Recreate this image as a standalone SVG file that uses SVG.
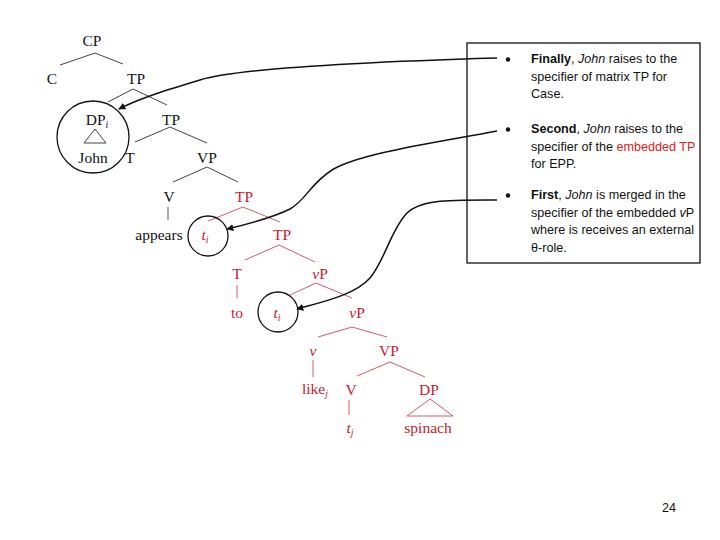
<svg xmlns="http://www.w3.org/2000/svg" width="720" height="540" viewBox="0 0 720 540">
<defs>
<style>
.t{font-family:"Liberation Serif","Times New Roman",serif;font-size:15.5px;text-anchor:middle}
.k{fill:#111}
.r{fill:#c8202e}
.lk{stroke:#444;stroke-width:1;fill:none}
.lr{stroke:#d45a68;stroke-width:1;fill:none}
.c{stroke:#111;stroke-width:1.3;fill:none}
.a{stroke:#111;stroke-width:1.5;fill:none;marker-end:url(#ah)}
.b{font-family:"Liberation Sans",Arial,sans-serif;font-size:12.6px;fill:#111}
.red{fill:#e02020}
</style>
<marker id="ah" viewBox="0 0 10 10" refX="9" refY="5" markerWidth="7" markerHeight="7" orient="auto" markerUnits="userSpaceOnUse">
<path d="M0,0 L10,5 L0,10 z" fill="#111"/>
</marker>
</defs>
<rect width="720" height="540" fill="#fff"/>

<g id="tree-lines">
<path class="lk" d="M60,65 L95,53 L123,64"/>
<path class="lk" d="M108,102 L133,89 L167,105"/>
<path class="lk" d="M95,129 L84,143 L106,143 Z"/>
<path class="lk" d="M135,142 L170,127 L207,143"/>
<path class="lk" d="M173,182 L207,167 L238,182"/>
<path d="M168,207 L168,220" stroke="#5a8070" stroke-width="1.2"/>
<path class="lr" d="M208,221 L243,207 L280,222"/>
<path class="lr" d="M245,260 L279,245 L315,262"/>
<path class="lr" d="M237,285 L237,298"/>
<path class="lr" d="M290,295 L316,283 L352,298"/>
<path class="lr" d="M318,337 L352,327 L387,337"/>
<path class="lr" d="M313,360 L313,377"/>
<path class="lr" d="M357,376 L390,362 L425,377"/>
<path class="lr" d="M349,400 L349,415"/>
<path class="lr" d="M430,399 L407,416 L453,416 Z"/>
</g>

<g id="CP"><text class="t k" x="92" y="46">CP</text></g>
<g id="C"><text class="t k" x="52" y="84">C</text></g>
<g id="TP1"><text class="t k" x="136" y="84">TP</text></g>
<g id="DPi"><text class="t k" x="97" y="125">DP<tspan font-style="italic" font-size="10" dy="3">i</tspan></text></g>
<g id="John"><text class="t k" x="93" y="163">John</text></g>
<g id="T1"><text class="t k" x="130" y="163">T</text></g>
<g id="TP2"><text class="t k" x="171" y="125">TP</text></g>
<g id="VP1"><text class="t k" x="207" y="163">VP</text></g>
<g id="V1"><text class="t k" x="169" y="202">V</text></g>
<g id="appears"><text class="t k" x="159" y="240">appears</text></g>
<g id="TP3"><text class="t r" x="244" y="202">TP</text></g>
<g id="ti1"><text class="t r" x="205" y="240" font-style="italic">t<tspan font-size="10" dy="3">i</tspan></text></g>
<g id="TP4"><text class="t r" x="282" y="240">TP</text></g>
<g id="T2"><text class="t r" x="237" y="279">T</text></g>
<g id="vP1"><text class="t r" x="320" y="279"><tspan font-style="italic">v</tspan>P</text></g>
<g id="to"><text class="t r" x="237" y="318">to</text></g>
<g id="ti2"><text class="t r" x="277" y="318" font-style="italic">t<tspan font-size="10" dy="3">i</tspan></text></g>
<g id="vP2"><text class="t r" x="357" y="318"><tspan font-style="italic">v</tspan>P</text></g>
<g id="v"><text class="t r" x="313" y="356" font-style="italic">v</text></g>
<g id="VP2"><text class="t r" x="389" y="356">VP</text></g>
<g id="like"><text class="t r" x="315" y="394">like<tspan font-style="italic" font-size="10" dy="3">j</tspan></text></g>
<g id="V2"><text class="t r" x="351" y="395">V</text></g>
<g id="DP2"><text class="t r" x="429" y="395">DP</text></g>
<g id="tj"><text class="t r" x="350" y="433" font-style="italic">t<tspan font-size="10" dy="3">j</tspan></text></g>
<g id="spinach"><text class="t r" x="428" y="433">spinach</text></g>

<g id="circles">
<circle class="c" cx="93" cy="137" r="36"/>
<circle class="c" cx="208" cy="236" r="20"/>
<circle class="c" cx="278" cy="312" r="20"/>
</g>

<g id="box">
<rect x="467" y="43" width="233" height="220" fill="none" stroke="#111" stroke-width="1.3"/>
<circle cx="508" cy="59.5" r="2.2" fill="#111"/>
<circle cx="508" cy="129.5" r="2.2" fill="#111"/>
<circle cx="508" cy="195.5" r="2.2" fill="#111"/>
<text class="b" x="531" y="63"><tspan font-weight="bold">Finally</tspan>, <tspan font-style="italic">John</tspan> raises to the</text>
<text class="b" x="531" y="80.5">specifier of matrix TP for</text>
<text class="b" x="531" y="98">Case.</text>
<text class="b" x="531" y="133"><tspan font-weight="bold">Second</tspan>, <tspan font-style="italic">John</tspan> raises to the</text>
<text class="b" x="531" y="150.5">specifier of the <tspan class="red">embedded TP</tspan></text>
<text class="b" x="531" y="168">for EPP.</text>
<text class="b" x="531" y="199"><tspan font-weight="bold">First</tspan>, <tspan font-style="italic">John</tspan> is merged in the</text>
<text class="b" x="531" y="216.5">specifier of the embedded <tspan font-style="italic">v</tspan>P</text>
<text class="b" x="531" y="234">where is receives an external</text>
<text class="b" x="531" y="251.5">θ-role.</text>
</g>

<g id="connectors">
<path class="a" d="M497,58 C360,62 240,68 200,80 C170,89 140,98 119,109"/>
<path class="a" d="M497,131 C440,142 360,153 332,170 C310,184 306,200 290,209 C272,218 248,224 227,229"/>
<path class="a" d="M497,200 C450,200 420,199 406,214 C390,232 385,260 370,278 C355,295 322,302 297,309"/>
</g>

<g id="page"><text x="669" y="512" font-family="Liberation Sans,Arial,sans-serif" font-size="12.5" fill="#111" text-anchor="middle">24</text></g>
</svg>
